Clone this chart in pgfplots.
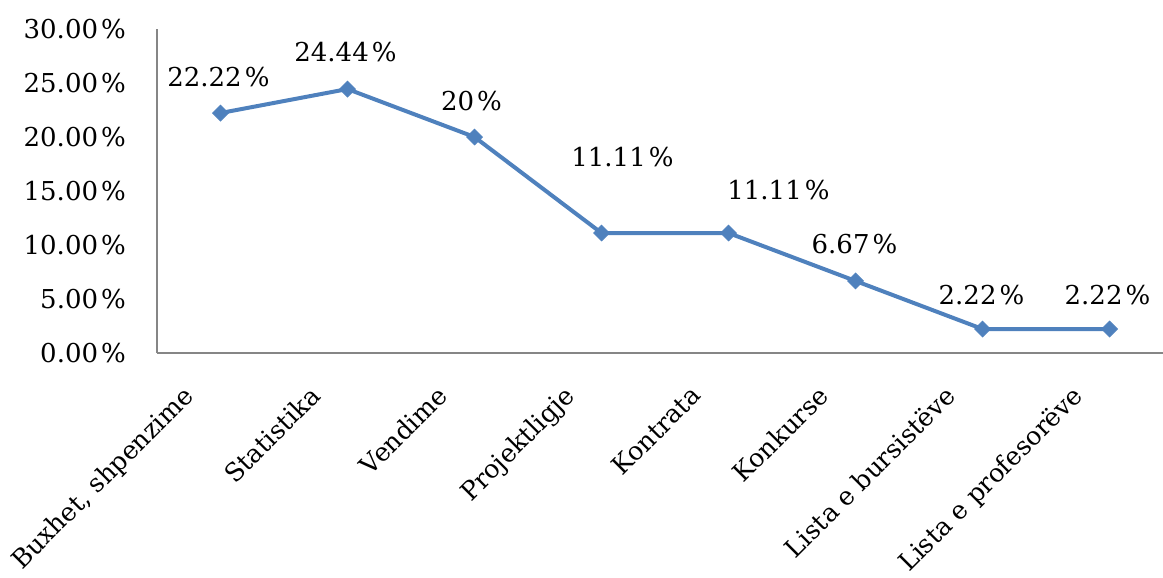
\documentclass[border=0pt]{standalone}
\usepackage{pgfplots}
\usepackage{pgfplotstable}
\pgfplotsset{compat=1.18}
\usepackage{fontspec}
\setmainfont{DejaVu Serif}
\definecolor{lineblue}{HTML}{4F81BD}
\definecolor{axgray}{HTML}{868686}
\newcommand{\pc}{\kern0.12em\%}

\pgfplotstableread{
x y dx dy lab
0 22.22 -1 18 22.22
1 24.44 -1 18.5 24.44
2 20.00 -1.5 18 20
3 11.11 10.5 38 11.11
4 11.11 25 21.5 11.11
5 6.67 -0.5 18.5 6.67
6 2.22 -0.5 17 2.22
7 2.22 -1 17 2.22
}\data

\begin{document}
\begin{tikzpicture}
\useasboundingbox (-78.5pt,-112.5pt) rectangle (503pt,176.5pt);
\begin{axis}[
  at={(0,0)}, anchor=south west,
  scale only axis, width=503pt, height=162pt,
  xmin=-0.5, xmax=7.421, ymin=0, ymax=30,
  clip=false,
  axis x line*=bottom, axis y line*=left,
  axis line style={-, draw=axgray, line width=0.8pt},
  major tick length=0pt,
  font=\fontsize{13}{15}\selectfont,
  ytick={0,5,10,15,20,25,30},
  yticklabels={0.00\pc,5.00\pc,10.00\pc,15.00\pc,20.00\pc,25.00\pc,30.00\pc},
  yticklabel style={xshift=-12pt},
  xtick={0,1,2,3,4,5,6,7},
  xticklabels={{Buxhet, shpenzime},Statistika,Vendime,Projektligje,Kontrata,Konkurse,{Lista e bursistëve},{Lista e profesorëve}},
  xticklabel style={font=\fontsize{12.7}{15}\selectfont, xshift=-19.5pt, yshift=-10.5pt, rotate=45, anchor=north east},
]
\addplot[color=lineblue, line width=2pt, mark=square*, mark size=2.8pt,
  mark options={solid, rotate=45, fill=lineblue, draw=lineblue, line width=0.4pt},
  point meta=explicit symbolic,
  visualization depends on={\thisrow{dx} \as \dx},
  visualization depends on={\thisrow{dy} \as \dy},
  nodes near coords={\pgfplotspointmeta\pc},
  every node near coord/.append style={text=black, anchor=center, xshift=\dx pt, yshift=\dy pt, font=\fontsize{13}{15}\selectfont},
] table[x=x, y=y, meta=lab] {\data};
\end{axis}
\end{tikzpicture}
\end{document}
